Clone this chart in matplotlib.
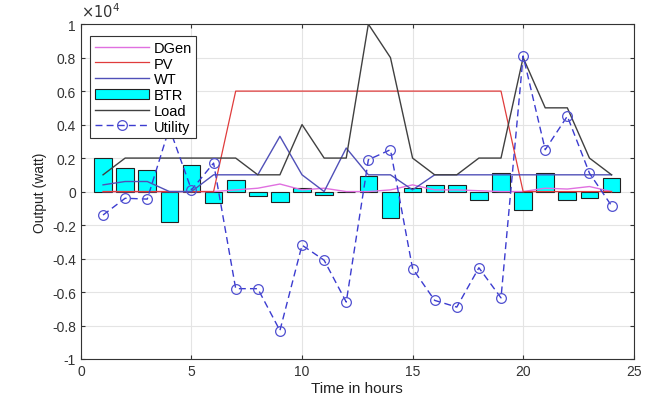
import matplotlib.pyplot as plt
from matplotlib.ticker import FuncFormatter, MultipleLocator
import numpy as np

plt.rcParams['font.family'] = ['Liberation Sans', 'DejaVu Sans']
plt.rcParams['axes.unicode_minus'] = False

# Hourly dispatch (values in units of 1e4 W)
hours = np.arange(1, 25)
dgen = [0, 0, 0, 0, 0, 0, 0.01, 0.02, 0.045, 0.01, 0.02, 0, 0, 0.01, 0.04, 0.01,
        0.01, 0.005, 0, 0, 0.02, 0.015, 0.03, 0]
pv = [0, 0, 0, 0, 0, 0, 0.6, 0.6, 0.6, 0.6, 0.6, 0.6, 0.6, 0.6, 0.6, 0.6,
      0.6, 0.6, 0.6, 0, 0, 0, 0, 0]
wt = [0.04, 0.06, 0.06, 0, 0, 0.1, 0.1, 0.1, 0.33, 0.1, 0, 0.26, 0.1, 0.1, 0.01, 0.1,
      0.1, 0.1, 0.1, 0.1, 0.1, 0.1, 0.1, 0.1]
btr = [0.2, 0.14, 0.13, -0.18, 0.16, -0.07, 0.07, -0.025, -0.06, 0.02, -0.02, 0, 0.09, -0.16, 0.02, 0.04,
       0.04, -0.05, 0.11, -0.11, 0.11, -0.05, -0.04, 0.08]
load = [0.1, 0.2, 0.2, 0.2, 0.2, 0.2, 0.2, 0.1, 0.1, 0.4, 0.2, 0.2, 1.0, 0.8, 0.2, 0.1,
        0.1, 0.2, 0.2, 0.8, 0.5, 0.5, 0.2, 0.1]
utility = [-0.14, -0.04, -0.045, 0.38, 0.01, 0.17, -0.58, -0.58, -0.83, -0.32, -0.41, -0.66, 0.19, 0.25, -0.46, -0.65,
           -0.69, -0.455, -0.635, 0.81, 0.25, 0.45, 0.11, -0.085]
labels = ['DGen', 'PV', 'WT', 'BTR', 'Load', 'Utility']

scale = 1e4

fig = plt.figure(figsize=(6.58, 4.02), dpi=100)
ax = fig.add_axes([0.123, 0.1045, 0.840, 0.833])

h_dgen, = ax.plot(hours, np.array(dgen) * scale, color='#e070e0', lw=1.0, zorder=3)
h_pv, = ax.plot(hours, np.array(pv) * scale, color='#e03c3c', lw=0.9, zorder=3)
h_wt, = ax.plot(hours, np.array(wt) * scale, color='#5050b8', lw=1.0, zorder=3)
h_btr = ax.bar(hours, np.array(btr) * scale, width=0.8, color='#00ffff',
               edgecolor='#222222', lw=0.8, zorder=2)
h_load, = ax.plot(hours, np.array(load) * scale, color='#404040', lw=1.0, zorder=3)
h_util, = ax.plot(hours, np.array(utility) * scale, color='#3c3cd0', lw=1.0, ls=(0, (5, 3)),
                  marker='o', ms=7, mfc='none', mec='#5050d0', mew=0.9, zorder=4)

ax.set_xlim(0, 25)
ax.set_ylim(-1 * scale, 1 * scale)
ax.xaxis.set_major_locator(MultipleLocator(5))
ax.yaxis.set_major_locator(MultipleLocator(0.2 * scale))
ax.yaxis.set_major_formatter(FuncFormatter(lambda v, p: '%g' % round(v / scale, 2)))
ax.text(0.0, 1.012, r'$\times10^4$', transform=ax.transAxes, fontsize=10.5,
        color='#333333', ha='left', va='bottom')

ax.grid(True, color='#e4e4e4', lw=0.8)
ax.set_axisbelow(True)
ax.tick_params(direction='in', length=3, labelsize=10, colors='#333333',
               top=True, right=True)
for s in ax.spines.values():
    s.set_color('#333333')
    s.set_linewidth(0.8)

ax.set_xlabel('Time in hours', fontsize=11, color='#222222', labelpad=2)
ax.set_ylabel('Output (watt)', fontsize=10, color='#222222', labelpad=4)

leg = ax.legend([h_dgen, h_pv, h_wt, h_btr, h_load, h_util], labels,
                loc='upper left', bbox_to_anchor=(0.004, 0.985), fontsize=10.5,
                handlelength=3.7, handletextpad=0.35, labelspacing=0.12,
                borderpad=0.3, fancybox=False, framealpha=1, edgecolor='#333333')
leg.set_zorder(10)
leg.get_frame().set_linewidth(0.8)

fig.savefig('out.png', dpi=100)
